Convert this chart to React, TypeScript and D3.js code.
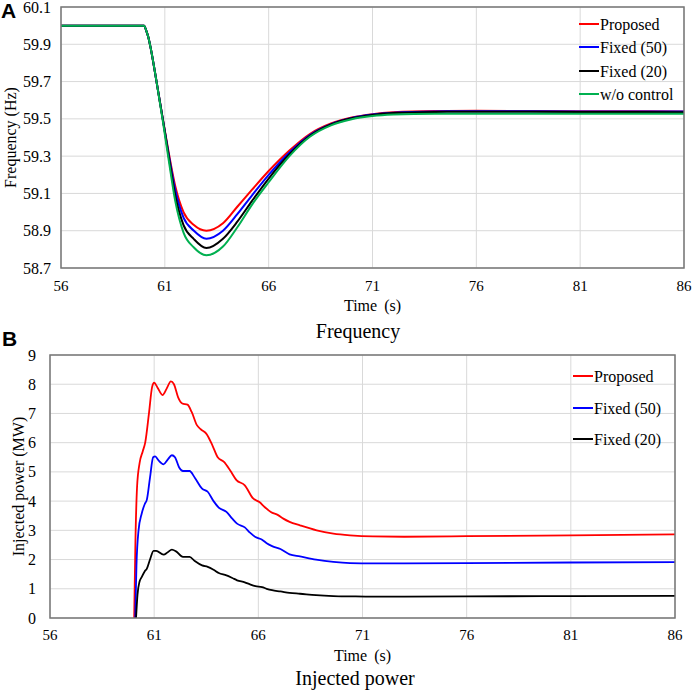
import React from "react";
import * as d3 from "d3";

type Pt = [number, number];

// ---------- Panel A: Frequency (Hz) ----------
const freqTicksX = [56, 61, 66, 71, 76, 81, 86];
const freqTicksY = [58.7, 58.9, 59.1, 59.3, 59.5, 59.7, 59.9, 60.1];
const freqSeriesNames = ["Proposed", "Fixed (50)", "Fixed (20)", "w/o control"];
const freqColors = ["#ff0000", "#0000ff", "#000000", "#00b050"];

const freqProposed: Pt[] = [
  [56, 60], [60, 60], [60.1, 59.975], [60.2, 59.94], [60.3, 59.89], [60.6, 59.7], [60.9, 59.5],
  [61.2, 59.31], [61.5, 59.14], [61.9, 59.0], [62.4, 58.93], [63.0, 58.9], [63.8, 58.94],
  [64.5, 59.03], [65.2, 59.12], [66, 59.22], [67, 59.33], [68, 59.42], [69, 59.475], [70, 59.507],
  [71, 59.525], [72, 59.535], [74, 59.542], [76, 59.543], [81, 59.541], [86, 59.54],
];
const freqFixed50: Pt[] = [
  [56, 60], [60, 60], [60.1, 59.975], [60.2, 59.94], [60.3, 59.89], [60.6, 59.7], [60.9, 59.5],
  [61.2, 59.3], [61.5, 59.12], [61.9, 58.97], [62.4, 58.9], [63.0, 58.857], [63.8, 58.9],
  [64.5, 58.99], [65.2, 59.09], [66, 59.2], [67, 59.32], [68, 59.415], [69, 59.472], [70, 59.505],
  [71, 59.523], [72, 59.533], [74, 59.54], [76, 59.541], [81, 59.54], [86, 59.539],
];
const freqFixed20: Pt[] = [
  [56, 60], [60, 60], [60.1, 59.975], [60.2, 59.94], [60.3, 59.89], [60.6, 59.7], [60.9, 59.5],
  [61.2, 59.29], [61.5, 59.09], [61.9, 58.93], [62.4, 58.855], [63.0, 58.807], [63.8, 58.857],
  [64.5, 58.95], [65.2, 59.06], [66, 59.18], [67, 59.31], [68, 59.41], [69, 59.47], [70, 59.503],
  [71, 59.521], [72, 59.531], [74, 59.537], [76, 59.538], [81, 59.537], [86, 59.536],
];
const freqNoControl: Pt[] = [
  [56, 60], [60, 60], [60.1, 59.975], [60.2, 59.94], [60.3, 59.89], [60.6, 59.7], [60.9, 59.49],
  [61.2, 59.27], [61.5, 59.06], [61.9, 58.89], [62.4, 58.81], [63.0, 58.768], [63.8, 58.815],
  [64.5, 58.92], [65.2, 59.04], [66, 59.16], [67, 59.3], [68, 59.405], [69, 59.465], [70, 59.498],
  [71, 59.515], [72, 59.523], [74, 59.528], [76, 59.528], [81, 59.527], [86, 59.527],
];

// ---------- Panel B: Injected power (MW) ----------
const powerTicksX = [56, 61, 66, 71, 76, 81, 86];
const powerTicksY = [0, 1, 2, 3, 4, 5, 6, 7, 8, 9];
const powerSeriesNames = ["Proposed", "Fixed (50)", "Fixed (20)"];
const powerColors = ["#ff0000", "#0000ff", "#000000"];

const powerProposed: Pt[] = [
  [60.04, 0], [60.1, 2.6], [60.18, 4.5], [60.3, 5.3], [60.45, 5.7], [60.57, 6.0], [60.75, 7.0],
  [60.9, 7.9], [61.0, 8.05], [61.15, 7.9], [61.4, 7.63], [61.6, 7.85], [61.8, 8.1], [61.95, 8.0],
  [62.15, 7.55], [62.35, 7.34], [62.6, 7.3], [62.8, 7.05], [63.05, 6.6], [63.25, 6.45], [63.5, 6.31],
  [63.8, 5.9], [64.05, 5.5], [64.35, 5.34], [64.65, 5.05], [64.95, 4.72], [65.35, 4.54], [65.75, 4.09],
  [66.05, 3.97], [66.3, 3.8], [66.6, 3.63], [66.95, 3.52], [67.2, 3.4], [67.5, 3.29], [68.0, 3.17],
  [68.8, 3.0], [69.6, 2.89], [70.4, 2.83], [71.5, 2.79], [73, 2.78], [76, 2.8], [81, 2.83], [86, 2.86],
];
const powerFixed50: Pt[] = [
  [60.09, 0], [60.15, 1.8], [60.25, 3.0], [60.4, 3.57], [60.55, 3.9], [60.65, 4.05], [60.8, 4.8],
  [60.95, 5.5], [61.05, 5.53], [61.2, 5.4], [61.45, 5.26], [61.65, 5.42], [61.85, 5.57], [62.0, 5.5],
  [62.2, 5.15], [62.38, 5.03], [62.7, 5.03], [62.95, 4.8], [63.3, 4.43], [63.57, 4.32], [63.85, 4.0],
  [64.1, 3.78], [64.47, 3.63], [64.75, 3.4], [64.98, 3.23], [65.35, 3.1], [65.6, 2.92], [65.86, 2.77],
  [66.18, 2.68], [66.4, 2.56], [66.66, 2.46], [67.06, 2.36], [67.5, 2.18], [68.0, 2.11], [68.77, 2.0],
  [69.6, 1.92], [70.4, 1.88], [71.5, 1.87], [73, 1.87], [76, 1.88], [81, 1.9], [86, 1.91],
];
const powerFixed20: Pt[] = [
  [60.13, 0], [60.2, 0.8], [60.3, 1.25], [60.4, 1.4], [60.55, 1.6], [60.65, 1.69], [60.8, 2.0],
  [60.97, 2.3], [61.1, 2.3], [61.45, 2.17], [61.65, 2.25], [61.85, 2.34], [62.05, 2.28], [62.38, 2.09],
  [62.7, 2.09], [62.95, 1.95], [63.3, 1.8], [63.57, 1.75], [63.85, 1.65], [64.1, 1.54], [64.47, 1.46],
  [64.75, 1.37], [64.98, 1.29], [65.35, 1.22], [65.6, 1.15], [65.86, 1.09], [66.18, 1.06], [66.4, 1.0],
  [66.66, 0.95], [67.06, 0.91], [67.5, 0.86], [68.0, 0.83], [68.77, 0.78], [69.6, 0.75], [70.4, 0.74],
  [71.5, 0.73], [73, 0.73], [76, 0.74], [81, 0.75], [86, 0.76],
];

const SERIF = "'Liberation Serif', 'Times New Roman', serif";
const SANS = "'Liberation Sans', Arial, sans-serif";

interface PanelProps {
  left: number; right: number; top: number; bottom: number;
  xDomain: [number, number]; yDomain: [number, number];
  xTicks: number[]; yTicks: number[]; yFmt: (v: number) => string;
  series: Pt[][]; colors: string[]; names: string[];
  strokeW: number;
  yLabel: string; yLabelX: number; yTickRight: number;
  xLabelY: number; xTickY: number;
  title: string; titleX: number; titleY: number;
  letter: string; letterX: number; letterY: number;
  legendX: number; legendYs: number[];
}

function Panel(p: PanelProps) {
  const x = d3.scaleLinear().domain(p.xDomain).range([p.left, p.right]);
  const y = d3.scaleLinear().domain(p.yDomain).range([p.bottom, p.top]);
  const line = d3.line<Pt>().x((d) => x(d[0])).y((d) => y(d[1])).curve(d3.curveMonotoneX);
  const clipId = "clip-" + p.letter;
  return (
    <g>
      <defs>
        <clipPath id={clipId}>
          <rect x={p.left} y={p.top - 2} width={p.right - p.left} height={p.bottom - p.top + 4} />
        </clipPath>
      </defs>
      {p.yTicks.map((t) => (
        <line key={"gy" + t} x1={p.left} x2={p.right} y1={y(t)} y2={y(t)} stroke="#d9d9d9" strokeWidth={1} />
      ))}
      {p.xTicks.map((t) => (
        <line key={"gx" + t} x1={x(t)} x2={x(t)} y1={p.top} y2={p.bottom} stroke="#d9d9d9" strokeWidth={1} />
      ))}
      <g clipPath={`url(#${clipId})`}>
        {p.series.map((s, i) => (
          <path key={"s" + i} d={line(s) || ""} fill="none" stroke={p.colors[i]} strokeWidth={p.strokeW} strokeLinejoin="round" />
        ))}
      </g>
      <rect x={p.left} y={p.top} width={p.right - p.left} height={p.bottom - p.top} fill="none" stroke="#767676" strokeWidth={1.5} />
      {p.yTicks.map((t) => (
        <text key={"ty" + t} x={p.yTickRight} y={y(t)} dy="0.35em" textAnchor="end" fontFamily={SERIF} fontSize={16} fill="#000">
          {p.yFmt(t)}
        </text>
      ))}
      {p.xTicks.map((t) => (
        <text key={"tx" + t} x={x(t)} y={p.xTickY} dy="0.35em" textAnchor="middle" fontFamily={SERIF} fontSize={15} fill="#000">
          {t}
        </text>
      ))}
      <text x={(p.left + p.right) / 2} y={p.xLabelY} dy="0.35em" textAnchor="middle" fontFamily={SERIF} fontSize={16} wordSpacing={3}>
        Time (s)
      </text>
      <text transform={`translate(${p.yLabelX},${(p.top + p.bottom) / 2}) rotate(-90)`} dy="0.35em" textAnchor="middle" fontFamily={SERIF} fontSize={16}>
        {p.yLabel}
      </text>
      <text x={p.titleX} y={p.titleY} dy="0.35em" textAnchor="middle" fontFamily={SERIF} fontSize={20}>
        {p.title}
      </text>
      <text x={p.letterX} y={p.letterY} dy="0.35em" fontFamily={SANS} fontWeight="bold" fontSize={21}>
        {p.letter}
      </text>
      {p.names.map((n, i) => (
        <g key={"lg" + i}>
          <line x1={p.legendX} x2={p.legendX + 20} y1={p.legendYs[i]} y2={p.legendYs[i]} stroke={p.colors[i]} strokeWidth={2} />
          <text x={p.legendX + 21} y={p.legendYs[i]} dy="0.35em" fontFamily={SERIF} fontSize={16}>
            {n}
          </text>
        </g>
      ))}
    </g>
  );
}

export default function App() {
  return (
    <svg width={692} height={691} style={{ position: "absolute", left: 0, top: 0, background: "#fff" }}>
      <Panel
        left={61} right={684} top={7} bottom={268}
        xDomain={[56, 86]} yDomain={[58.7, 60.1]}
        xTicks={freqTicksX} yTicks={freqTicksY} yFmt={(v) => v.toFixed(1)}
        series={[freqProposed, freqFixed50, freqFixed20, freqNoControl]}
        colors={freqColors} names={freqSeriesNames} strokeW={2}
        yLabel="Frequency (Hz)" yLabelX={10} yTickRight={51}
        xLabelY={305} xTickY={286}
        title="Frequency" titleX={358} titleY={331}
        letter="A" letterX={1} letterY={11}
        legendX={579} legendYs={[24, 47, 71, 94]}
      />
      <Panel
        left={50} right={675} top={355} bottom={618}
        xDomain={[56, 86]} yDomain={[0, 9]}
        xTicks={powerTicksX} yTicks={powerTicksY} yFmt={(v) => String(v)}
        series={[powerProposed, powerFixed50, powerFixed20]}
        colors={powerColors} names={powerSeriesNames} strokeW={1.8}
        yLabel="Injected power (MW)" yLabelX={18} yTickRight={36}
        xLabelY={655} xTickY={635}
        title="Injected power" titleX={355} titleY={678}
        letter="B" letterX={2} letterY={339}
        legendX={573} legendYs={[376, 408, 439]}
      />
    </svg>
  );
}
